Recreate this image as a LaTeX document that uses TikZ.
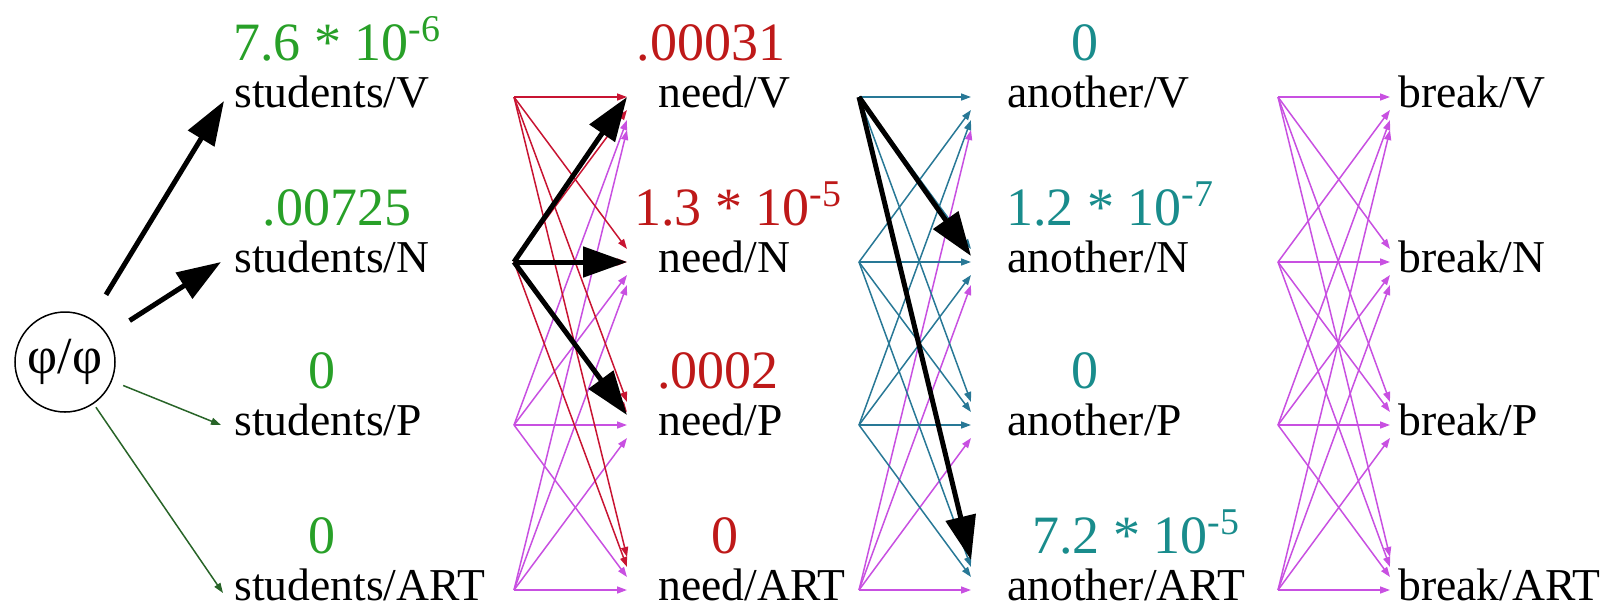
\documentclass[tikz,border=0pt]{standalone}
\usepackage{fontspec}
\setmainfont{Liberation Serif}
\newfontfamily\timesfont{Liberation Serif}
\usetikzlibrary{arrows.meta,calc}
\definecolor{labgreen}{RGB}{40,160,40}
\definecolor{labred}{RGB}{190,25,25}
\definecolor{labteal}{RGB}{25,140,140}
\definecolor{redarrow}{RGB}{200,20,50}
\definecolor{magarrow}{RGB}{200,80,225}
\definecolor{tealarrow}{RGB}{40,120,150}
\definecolor{greenarrow}{RGB}{40,100,40}
\tikzset{
  word/.style={anchor=base west, inner sep=0pt, font=\timesfont\fontsize{22.8}{27}\selectfont},
  prob/.style={anchor=base, inner sep=0pt, font=\timesfont\fontsize{27}{32}\selectfont},
  linkarrow/.style={line width=0.75pt, -{Triangle[length=5pt,width=3.5pt]}},
  boldarrow/.style={line width=2.5pt, -{Triangle[length=22pt,width=15pt]}},
}
\begin{document}
\begin{tikzpicture}[x=0.5pt,y=-0.5pt]
\useasboundingbox (0,0) rectangle (1612,607);
% anchor points
\foreach \r/\y in {1/97,2/262,3/425,4/590} {
  \coordinate (s1-\r) at (514,\y);
  \coordinate (t1-\r) at (627,\y);
  \coordinate (s2-\r) at (859,\y);
  \coordinate (t2-\r) at (971,\y);
  \coordinate (s3-\r) at (1278,\y);
  \coordinate (t3-\r) at (1390,\y);
}
% words
\foreach \r/\y/\t in {1/97/V,2/262/N,3/425/P,4/590/ART} {
  \node[word] (w0-\r) at (234,\y+10) {students/\t};
  \node[word] (w1-\r) at (658,\y+10) {need/\t};
  \node[word] (w2-\r) at (1007,\y+10) {another/\t};
  \node[word] (w3-\r) at (1398,\y+10) {break/\t};
}
% probabilities
\node[prob,labgreen] (p0-1) at (337,60) {7.6 * 10\textsuperscript{-6}};
\node[prob,labgreen] (p0-2) at (337,225) {.00725};
\node[prob,labgreen] (p0-3) at (322,388) {0};
\node[prob,labgreen] (p0-4) at (322,553) {0};
\node[prob,labred] (p1-1) at (711,60) {.00031};
\node[prob,labred] (p1-2) at (738,225) {1.3 * 10\textsuperscript{-5}};
\node[prob,labred] (p1-3) at (718,388) {.0002};
\node[prob,labred] (p1-4) at (725,553) {0};
\node[prob,labteal] (p2-1) at (1085,60) {0};
\node[prob,labteal] (p2-2) at (1110,225) {1.2 * 10\textsuperscript{-7}};
\node[prob,labteal] (p2-3) at (1085,388) {0};
\node[prob,labteal] (p2-4) at (1136,553) {7.2 * 10\textsuperscript{-5}};
% start node
\node[circle,draw,line width=0.75pt,minimum size=50pt,inner sep=0pt,
      font=\timesfont\fontsize{26}{30}\selectfont] (start) at (65,362) {φ/φ};
\coordinate (e0-1) at (224,101);
\coordinate (e0-2) at (221,262);
\coordinate (e0-3) at (221,425);
\coordinate (e0-4) at (223,593);
\draw[boldarrow,shorten <=14pt] (start) -- (e0-1);
\draw[boldarrow,shorten <=13pt] (start) -- (e0-2);
\draw[linkarrow,greenarrow,shorten <=6pt] (start) -- (e0-3);
\draw[linkarrow,greenarrow,shorten <=2pt] (start) -- (e0-4);
% link 1
\foreach \j/\c in {3/magarrow,4/magarrow,1/redarrow,2/redarrow}
  \foreach \i in {1,...,4} {
    \pgfmathsetmacro\off{10*(\j-\i)+3*sign(\j-\i)}
    \draw[linkarrow,\c] (s1-\j) -- ($(t1-\i)+(0,\off)$);
  }
% link 2
\foreach \j/\c in {4/magarrow,1/tealarrow,2/tealarrow,3/tealarrow}
  \foreach \i in {1,...,4} {
    \pgfmathsetmacro\off{10*(\j-\i)+3*sign(\j-\i)}
    \draw[linkarrow,\c] (s2-\j) -- ($(t2-\i)+(0,\off)$);
  }
% link 3
\foreach \j in {1,...,4}
  \foreach \i in {1,...,4} {
    \pgfmathsetmacro\off{10*(\j-\i)+3*sign(\j-\i)}
    \draw[linkarrow,magarrow] (s3-\j) -- ($(t3-\i)+(0,\off)$);
  }
% best paths
\draw[boldarrow] (s1-2) -- (t1-1);
\draw[boldarrow] (s1-2) -- (t1-2);
\draw[boldarrow] (s1-2) -- ($(t1-3)+(0,-10)$);
\draw[boldarrow] (s2-1) -- ($(t2-2)+(0,-6)$);
\draw[boldarrow] (s2-1) -- ($(t2-4)+(0,-30)$);
\end{tikzpicture}
\end{document}
